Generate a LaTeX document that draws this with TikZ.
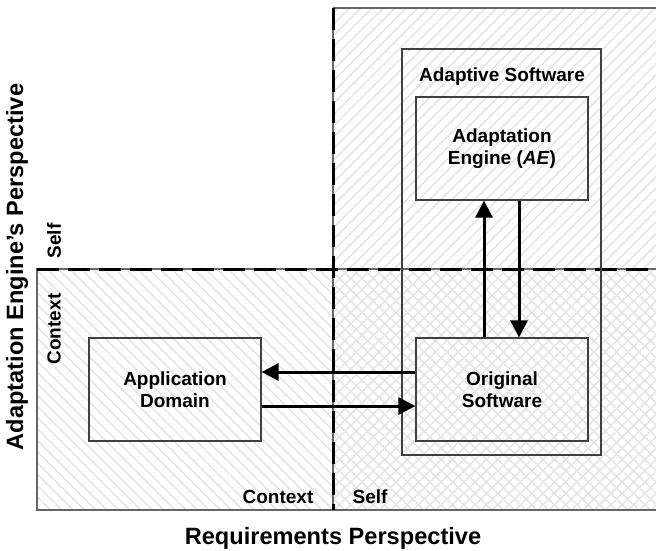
\documentclass[tikz,border=0pt]{standalone}
\usepackage{fontspec}
\setmainfont{Liberation Sans}
\usetikzlibrary{patterns.meta,arrows.meta}
\begin{document}
\begin{tikzpicture}[x=1pt,y=-1pt,
  lbl/.style={font=\fontsize{19}{22}\selectfont\bfseries, align=center, inner sep=0pt},
  big/.style={font=\fontsize{23.6}{27}\selectfont\bfseries, inner sep=0pt},
  box/.style={draw=black!75, line width=1.2pt, minimum width=172pt, minimum height=103pt, inner sep=0pt, lbl},
  border/.style={draw=black!60, line width=1.5pt},
  divider/.style={line width=3pt, dash pattern=on 22pt off 9pt},
  flow/.style={line width=3pt, -{Triangle[length=17pt,width=17pt]}},
  hatchA/.style={pattern={Lines[angle=45,distance=8pt,line width=1.6pt]}, pattern color=black!10},
  hatchB/.style={pattern={Lines[angle=-45,distance=8pt,line width=1.6pt]}, pattern color=black!10}
]
\useasboundingbox (0,0) rectangle (656,550);
% regions
\fill[hatchA] (333,8) rectangle (656,510);
\fill[hatchB] (37,269) rectangle (656,510);
\draw[border] (333,8) -- (656,8);
\draw[border] (656,510) -- (37,510) -- (37,269) -- (656,269);
\draw[border] (333,8) -- (333,510);
% dividers
\draw[divider] (333,8) -- (333,510);
\draw[divider] (37,269) -- (656,269);
% boxes
\node[draw=black!75, line width=1.2pt, minimum width=199pt, minimum height=406pt, inner sep=0pt] (adsw) at (501.5,252) {};
\node[lbl] (adswlbl) at (502,77) {Adaptive Software};
\node[box] (ae) at (502,148.5) {Adaptation\\Engine (\textit{AE})};
\node[box] (orig) at (502,389.5) {Original\\Software};
\node[box] (app) at (175,389.5) {Application\\Domain};
% arrows
\draw[flow] ([xshift=-18pt]orig.north) -- ([xshift=-18pt]ae.south);
\draw[flow] ([xshift=17pt]ae.south) -- ([xshift=17pt]orig.north);
\draw[flow] ([yshift=17.5pt]orig.west) -- ([yshift=17.5pt]app.east);
\draw[flow] ([yshift=-16.5pt]app.east) -- ([yshift=-16.5pt]orig.west);
% labels
\node[lbl] (ctxb) at (278,497) {Context};
\node[lbl] (selfb) at (370,497) {Self};
\node[lbl, rotate=90] (ctxl) at (54,329) {Context};
\node[lbl, rotate=90] (selfl) at (54,241) {Self};
\node[big] (req) at (333,538) {Requirements Perspective};
\node[big, rotate=90] (aep) at (17,267) {Adaptation Engine’s Perspective};
\end{tikzpicture}
\end{document}
